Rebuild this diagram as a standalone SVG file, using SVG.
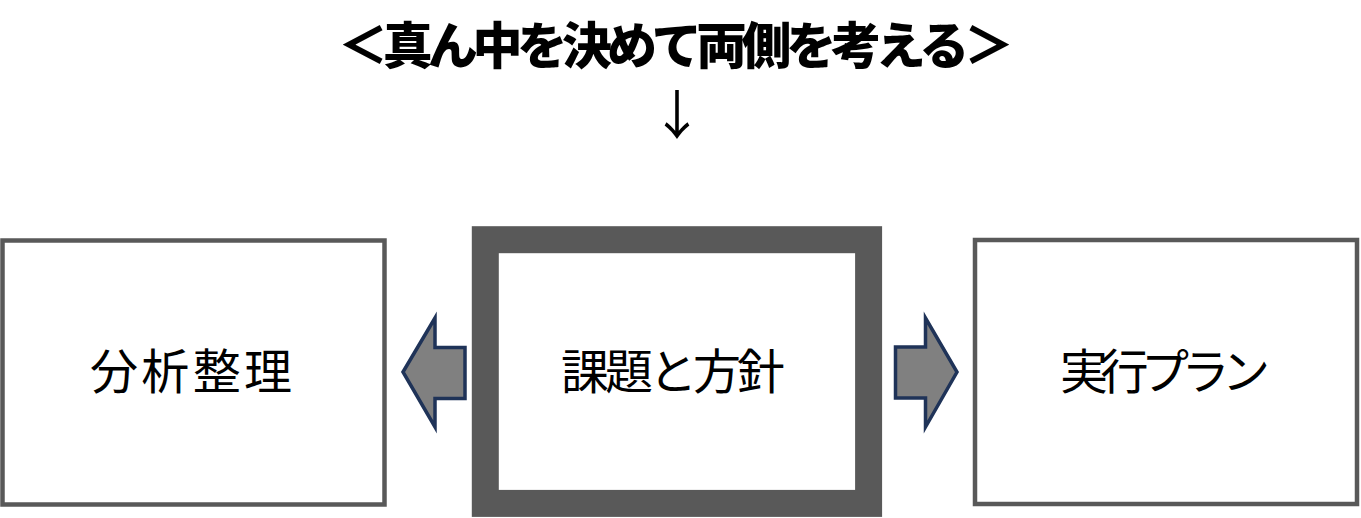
<svg xmlns="http://www.w3.org/2000/svg" width="1361" height="518" viewBox="0 0 1361 518">
<style>
.box{fill:#fff;stroke:#595959;stroke-width:4.5}
.center{fill:#fff;stroke:#595959;stroke-width:27}
.arrow{fill:#808080;stroke:#1f3358;stroke-width:3.5;stroke-linejoin:miter}
.lbl{font-family:"Noto Sans CJK JP","Noto Sans",sans-serif;font-size:48px;fill:#000;text-anchor:middle}
.title{font-family:"Liberation Sans","Noto Sans CJK JP",sans-serif;font-size:50px;font-weight:900;fill:#000;text-anchor:middle}
.down{font-family:"Noto Sans CJK JP",sans-serif;font-size:53px;fill:#000;text-anchor:middle}
</style>
<rect width="1361" height="518" fill="#fff"/>
<g id="title">
<text class="title" x="676" y="63.5" textLength="676" lengthAdjust="spacing">＜真ん中を決めて両側を考える＞</text>
<text class="down" x="677" y="135">↓</text>
</g>
<g id="node-analysis">
<rect class="box" x="2.5" y="240.5" width="382" height="264"/>
<text class="lbl" x="191" y="389" textLength="202" lengthAdjust="spacing">分析整理</text>
</g>
<g id="node-issue">
<rect class="center" x="485.3" y="239.7" width="383.3" height="263.7"/>
<text class="lbl" x="673" y="389" textLength="224" lengthAdjust="spacing">課題と方針</text>
</g>
<g id="node-plan">
<rect class="box" x="975" y="240" width="382" height="264"/>
<text class="lbl" x="1165" y="389" textLength="210" lengthAdjust="spacing">実行プラン</text>
</g>
<g id="connectors">
<polygon class="arrow" points="403,372 435,318 435,347.5 465,347.5 465,398.5 435,398.5 435,427"/>
<polygon class="arrow" points="895.5,347 925.5,347 925.5,318 957,372 925.5,427 925.5,398 895.5,398"/>
</g>
</svg>
